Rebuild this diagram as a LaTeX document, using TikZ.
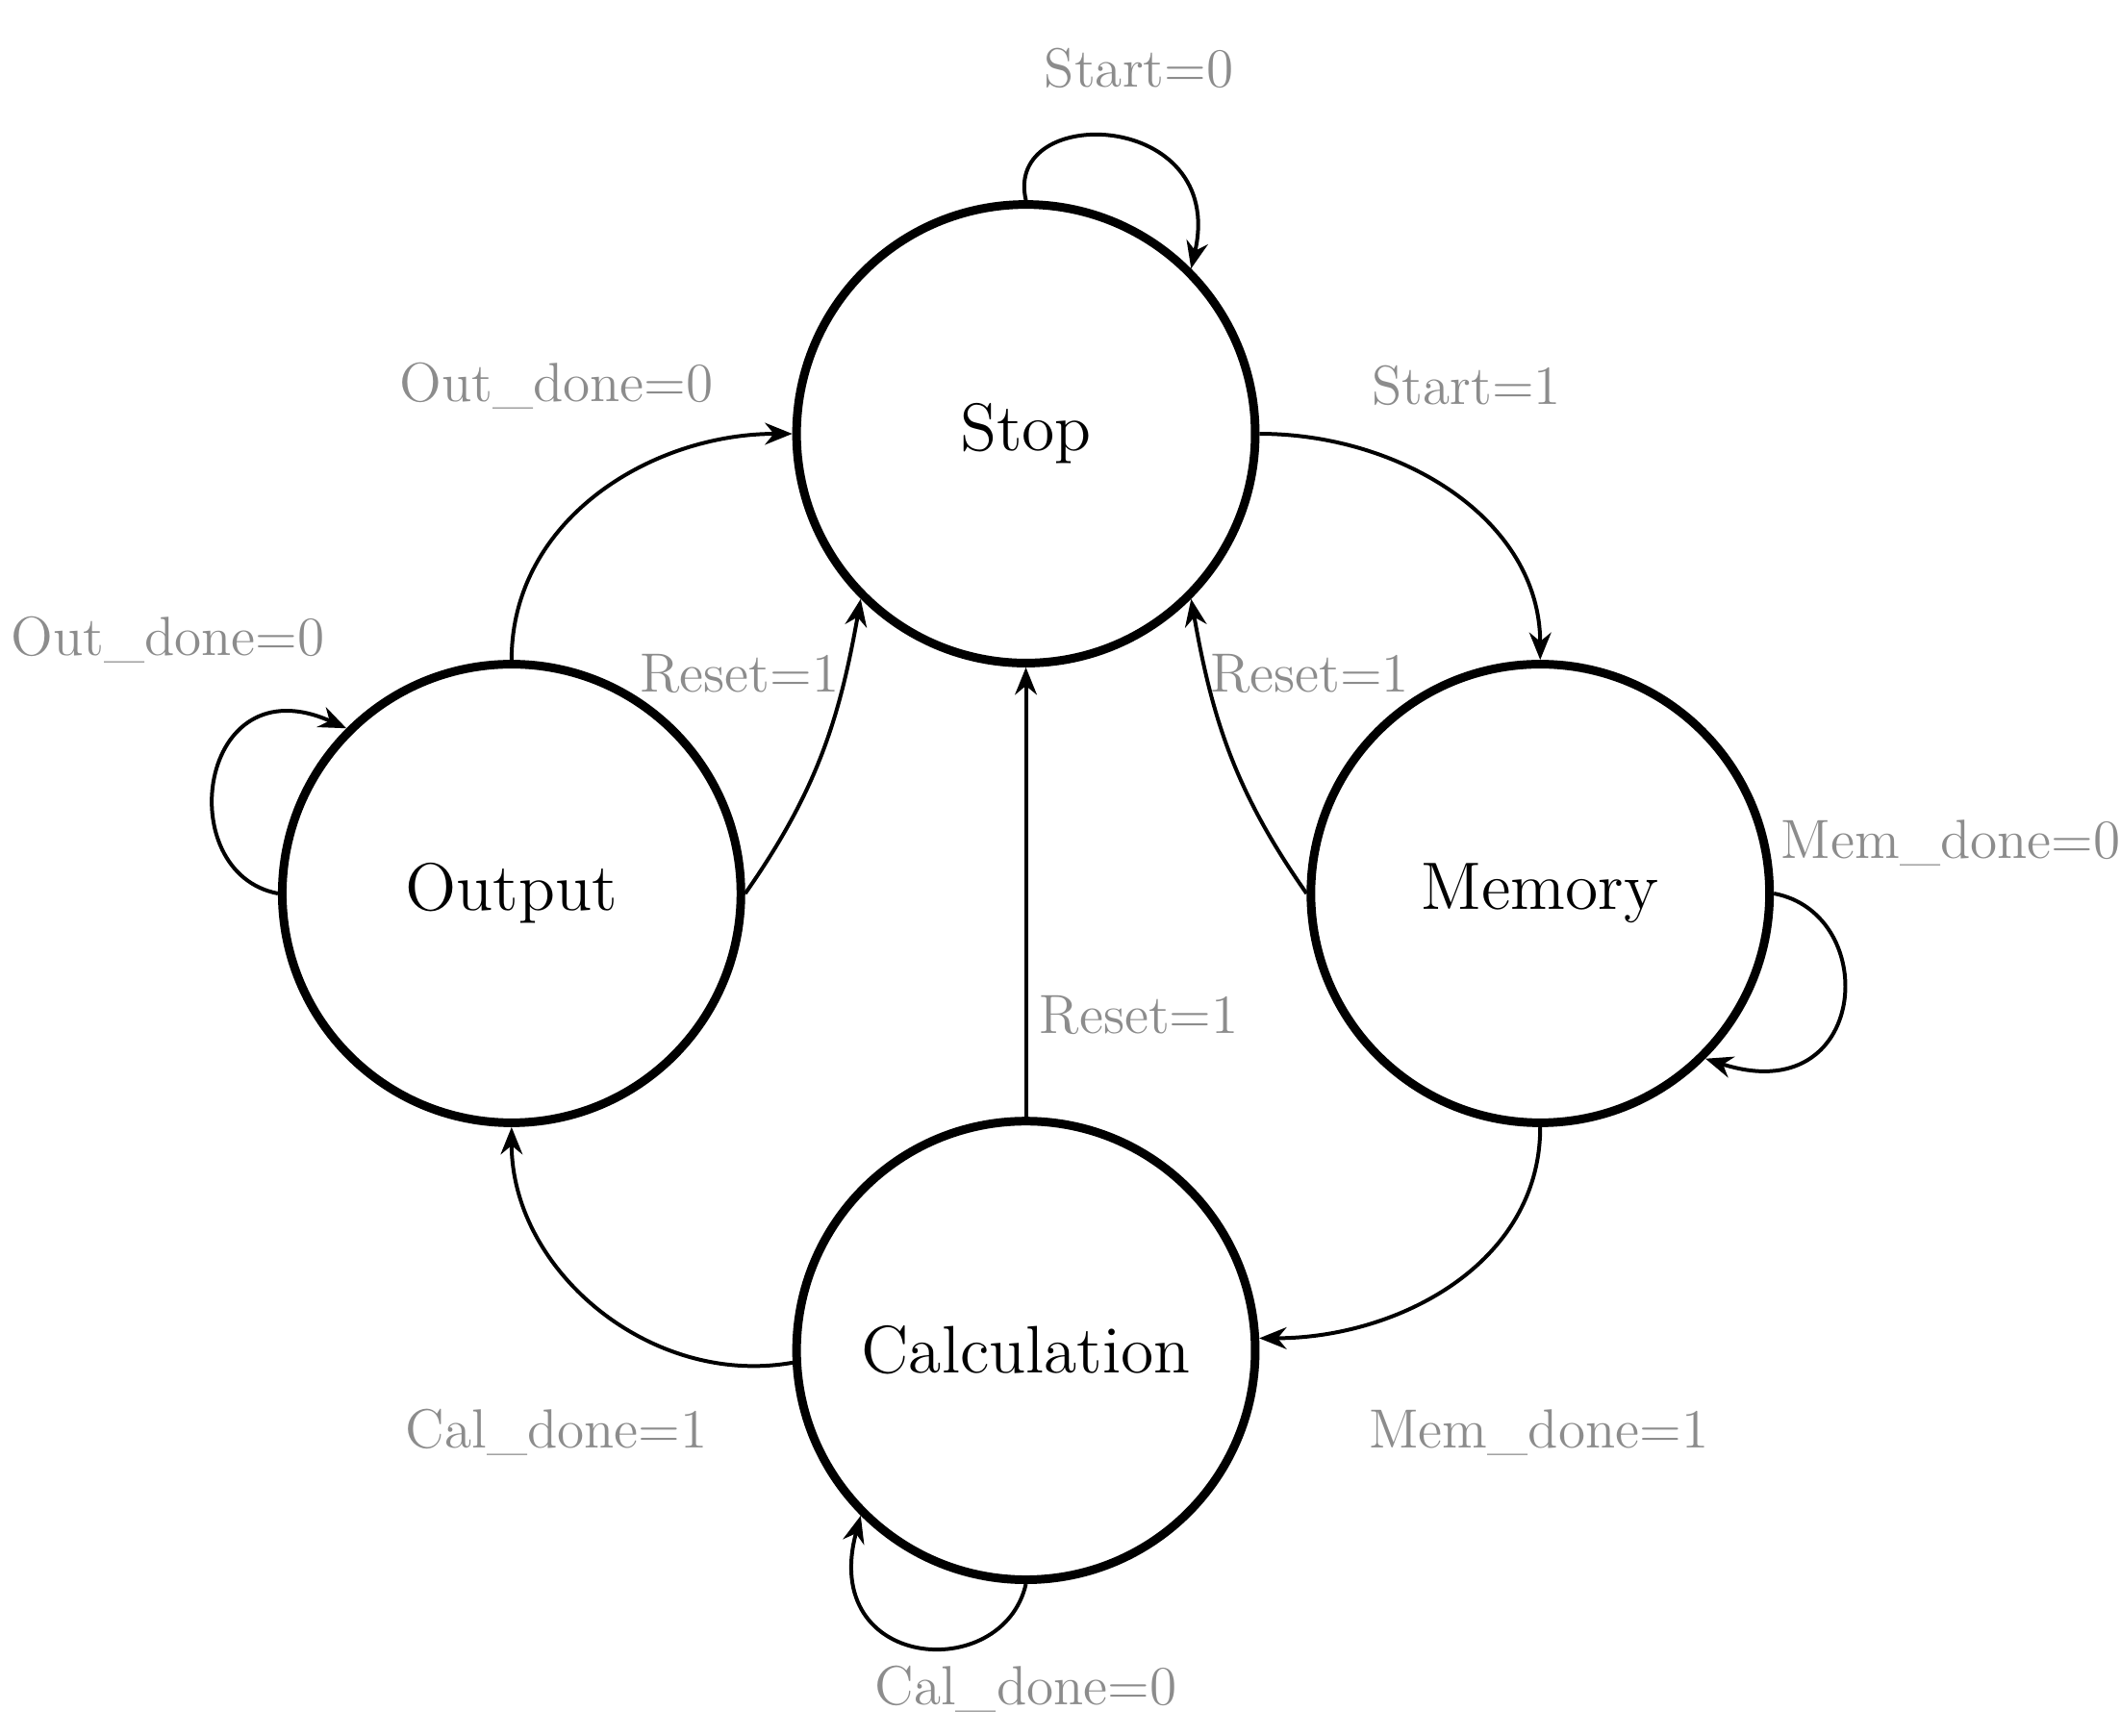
\documentclass[tikz,border=0pt]{standalone}
\usetikzlibrary{arrows.meta}
\begin{document}
\begin{tikzpicture}[x=0.01cm,y=-0.01cm,
  st/.style={circle,draw,line width=1.8pt,minimum size=3.36cm,inner sep=0pt,font=\fontsize{14}{16}\selectfont},
  ed/.style={line width=0.8pt,-{Stealth[length=0.2cm,width=0.16cm]}},
  lb/.style={text=black!45,font=\fontsize{11.5}{13}\selectfont}]
\useasboundingbox (0,0) rectangle (1554,1272);
\node[st] (stop) at (752,318) {Stop};
\node[st] (out) at (375,655) {Output};
\node[st] (mem) at (1129,655) {Memory};
\node[st] (cal) at (752,990) {Calculation};
\draw[ed] (stop.90) .. controls (735,75) and (900,80) .. (stop.45);
\draw[ed] (stop.0) to[out=0,in=90] (mem.90);
\draw[ed] (mem.180) to[out=125,in=-80] (stop.-45);
\draw[ed] (mem.0) .. controls (1380,670) and (1370,815) .. (mem.-45);
\draw[ed] (mem.270) to[out=-90,in=0] (cal.3);
\draw[ed] (cal.90) -- (stop.270);
\draw[ed] (cal.270) .. controls (735,1235) and (600,1225) .. (cal.225);
\draw[ed] (cal.183) to[out=190,in=-90] (out.270);
\draw[ed] (out.90) to[out=90,in=180] (stop.180);
\draw[ed] (out.0) to[out=55,in=-100] (stop.225);
\draw[ed] (out.180) .. controls (125,640) and (145,485) .. (out.135);
\node[lb] (l1) at (835,50) {Start=0};
\node[lb] (l2) at (1075,283) {Start=1};
\node[lb] (l3) at (960,494) {Reset=1};
\node[lb] (l4) at (1430,618) {Mem\_done=0};
\node[lb] (l5) at (1128,1050) {Mem\_done=1};
\node[lb] (l6) at (835,744) {Reset=1};
\node[lb] (l7) at (752,1238) {Cal\_done=0};
\node[lb] (l8) at (408,1050) {Cal\_done=1};
\node[lb] (l9) at (408,283) {Out\_done=0};
\node[lb] (l10) at (542,494) {Reset=1};
\node[lb] (l11) at (123,469) {Out\_done=0};
\end{tikzpicture}
\end{document}
